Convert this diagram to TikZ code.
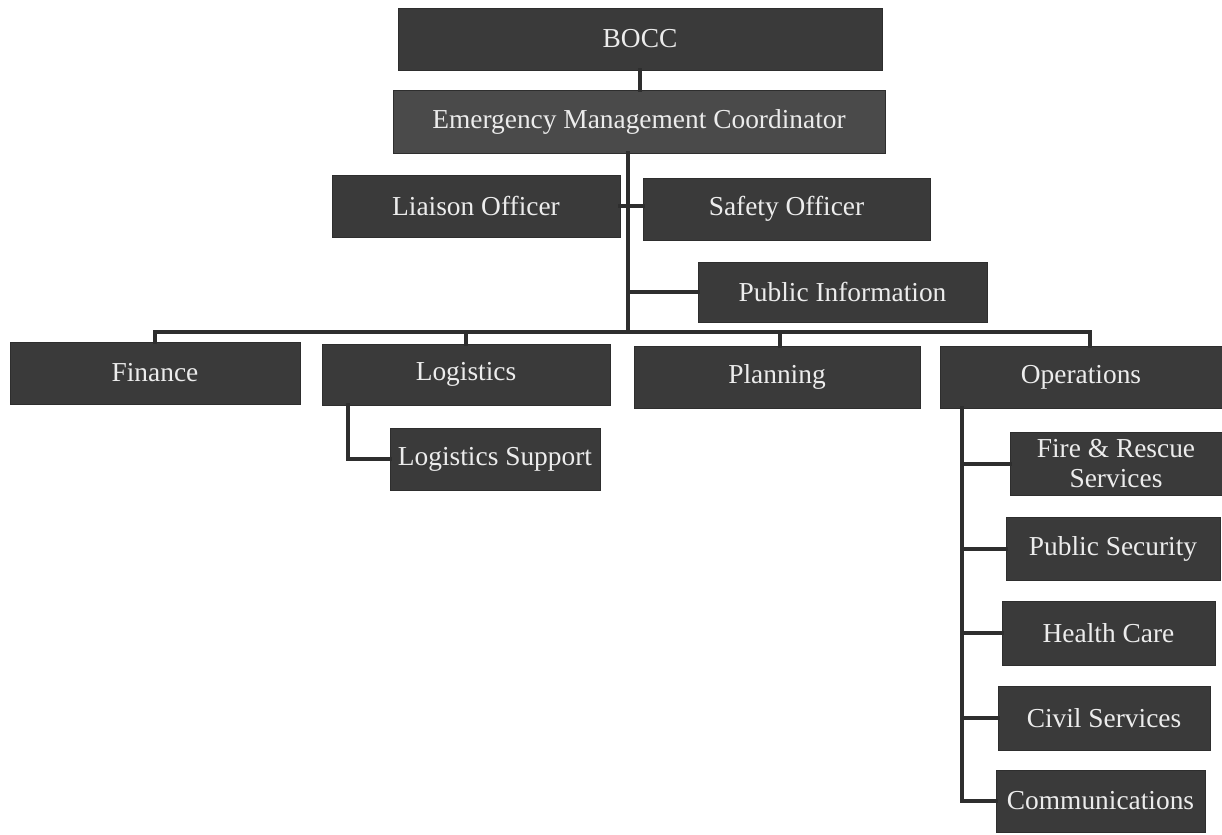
\documentclass[tikz,border=0pt]{standalone}
\usepackage{fontspec}
\setmainfont{Liberation Serif}
\definecolor{boxfill}{HTML}{3A3A3A}
\definecolor{boxfilltwo}{HTML}{4A4A4A}
\definecolor{boxtext}{HTML}{ECECEC}
\definecolor{linecol}{HTML}{2E2E2E}
\begin{document}
\begin{tikzpicture}[x=0.5pt,y=-0.5pt,
  orgbox/.style={fill=boxfill, draw=boxfill!80!black, line width=0.4pt,
    text=boxtext, inner sep=0pt, align=center,
    font=\fontsize{13.7}{15}\selectfont},
  link/.style={draw=linecol, line width=2pt, line cap=rect}]
\useasboundingbox (0,0) rectangle (1222,835);
\fill[white] (0,0) rectangle (1222,835);
% nodes
\node[orgbox, minimum width=242pt, minimum height=31pt] (bocc) at (640,39) {BOCC};
\node[orgbox, fill=boxfilltwo, minimum width=246pt, minimum height=31.5pt] (emc) at (639,121.5) {Emergency Management Coordinator};
\node[orgbox, minimum width=144pt, minimum height=31pt] (liaison) at (476,206) {Liaison Officer};
\node[orgbox, minimum width=143.5pt, minimum height=31pt] (safety) at (786.5,209) {Safety Officer};
\node[orgbox, minimum width=144.5pt, minimum height=30pt] (pubinfo) at (842.5,292) {Public Information};
\node[orgbox, minimum width=145pt, minimum height=31pt] (finance) at (155,373) {Finance};
\node[orgbox, minimum width=144pt, minimum height=30.5pt] (logistics) at (466,374.5) {Logistics};
\node[orgbox, minimum width=143pt, minimum height=31pt] (planning) at (777,377) {Planning};
\node[orgbox, minimum width=141pt, minimum height=31pt] (operations) at (1081,377) {Operations};
\node[orgbox, minimum width=105pt, minimum height=31pt] (logsup) at (495,459) {Logistics Support};
\node[orgbox, minimum width=106pt, minimum height=31.5pt] (fire) at (1116,464) {Fire \& Rescue\\Services};
\node[orgbox, minimum width=107pt, minimum height=31.5pt] (pubsec) at (1113,548.5) {Public Security};
\node[orgbox, minimum width=106.5pt, minimum height=32pt] (health) at (1108.5,633) {Health Care};
\node[orgbox, minimum width=106pt, minimum height=32pt] (civil) at (1104,718) {Civil Services};
\node[orgbox, minimum width=104.5pt, minimum height=31pt] (comms) at (1100.5,801) {Communications};
% helper coordinates
\coordinate (bar) at (628,332);
\coordinate (lsx) at (348,405);
\coordinate (opsx) at (962,408);
% connectors
\draw[link] (bocc.south) -- (bocc.south |- emc.north);
\draw[link] (emc.south -| bar) -- (bar);
\draw[link] (liaison.east) -- (liaison.east -| safety.west);
\draw[link] (pubinfo.west -| bar) -- (pubinfo.west);
\draw[link] (finance.north |- bar) -- (1090,332);
\draw[link] (finance.north |- bar) -- (finance.north);
\draw[link] (logistics.north |- bar) -- (logistics.north);
\draw[link] (780,332) -- (planning.north -| 780,0);
\draw[link] (1090,332) -- (operations.north -| 1090,0);
\draw[link] (lsx) -- (lsx |- logsup.west) -- (logsup.west);
\draw[link] (opsx) -- (opsx |- comms.west) -- (comms.west);
\draw[link] (opsx |- fire.west) -- (fire.west);
\draw[link] (opsx |- pubsec.west) -- (pubsec.west);
\draw[link] (opsx |- health.west) -- (health.west);
\draw[link] (opsx |- civil.west) -- (civil.west);
\end{tikzpicture}
\end{document}
